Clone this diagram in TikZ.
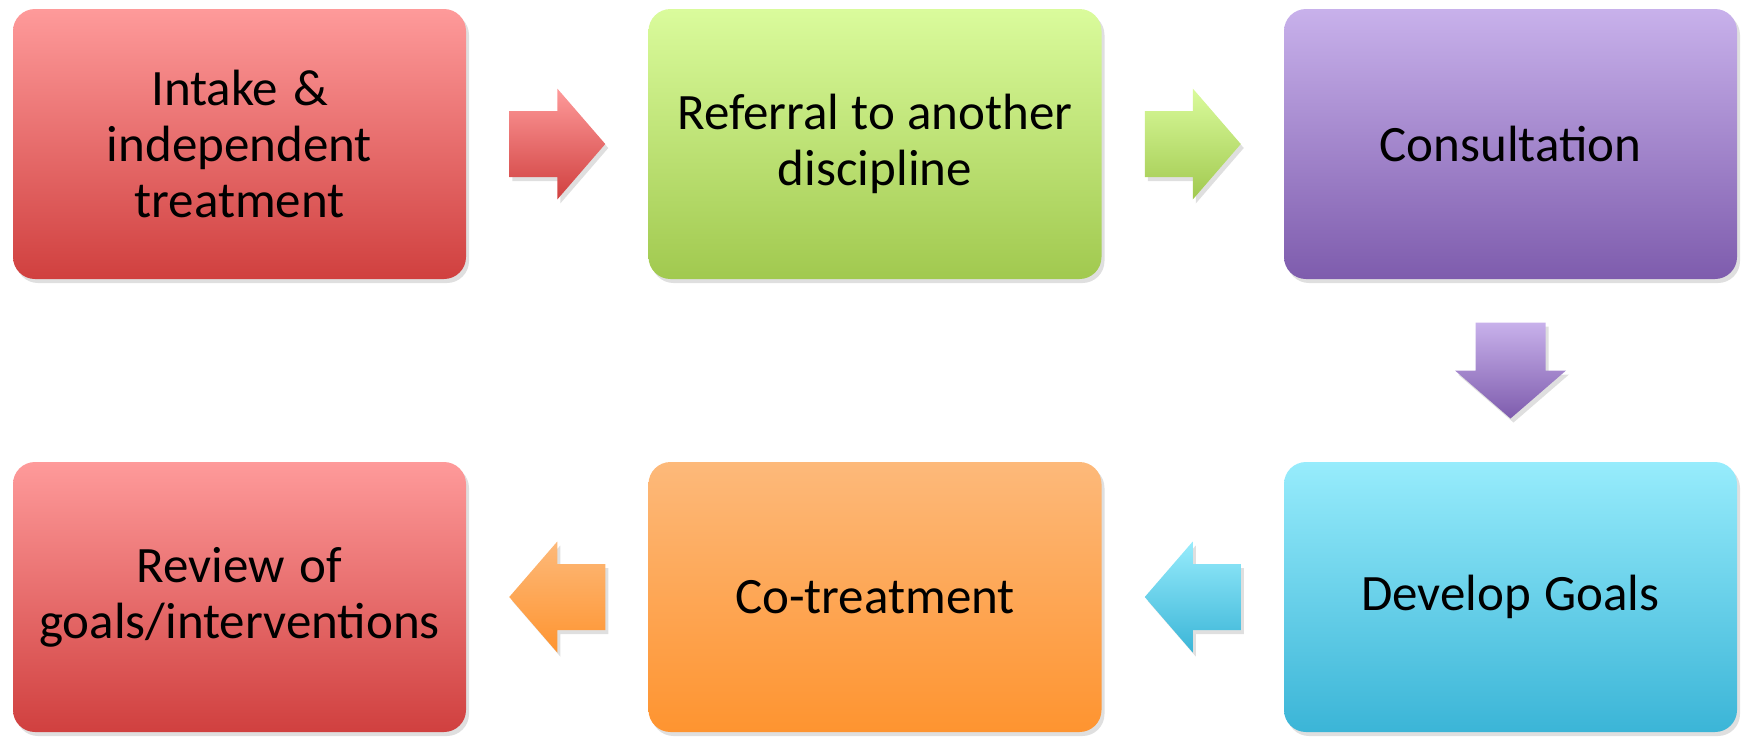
\documentclass[tikz,border=0pt]{standalone}
\usepackage{fontspec}
\setmainfont{Carlito}
\usetikzlibrary{calc,shadows}
\definecolor{redT}{HTML}{FE9A9A}\definecolor{redB}{HTML}{D0403F}
\definecolor{grnT}{HTML}{DAFB9C}\definecolor{grnB}{HTML}{A1C94F}
\definecolor{purT}{HTML}{C8B1EB}\definecolor{purB}{HTML}{7E5CAD}
\definecolor{cyaT}{HTML}{97ECFC}\definecolor{cyaB}{HTML}{3BB5D7}
\definecolor{orgT}{HTML}{FDB97A}\definecolor{orgB}{HTML}{FE9430}
\tikzset{
  softshadow/.style={drop shadow={opacity=0.18,shadow xshift=1.5pt,shadow yshift=-2pt,fill=black!70}},
  stepbox/.style={rounded corners=11pt, minimum width=226.5pt, minimum height=135pt,
    inner sep=0pt, align=center, text width=215pt,
    font=\fontsize{25.5}{28}\selectfont,
    execute at begin node={\spaceskip=0.23em plus 0.05em\relax}, softshadow},
  blockarrow/.style={softshadow},
}
\begin{document}
\begin{tikzpicture}[x=0.5pt,y=-0.5pt]
\useasboundingbox (0,0) rectangle (1749,736);
\node[stepbox, top color=redT, bottom color=redB] (a) at (239.5,144) {Intake \&\\independent\\treatment};
\node[stepbox, top color=grnT, bottom color=grnB] (b) at (875,144) {Referral to another\\discipline};
\node[stepbox, top color=purT, bottom color=purB] (c) at (1510.5,144) {Consultation};
\node[stepbox, top color=cyaT, bottom color=cyaB] (d) at (1510.5,597) {Develop Goals};
\node[stepbox, top color=orgT, bottom color=orgB] (e) at (875,597) {Co-treatment};
\node[stepbox, top color=redT, bottom color=redB] (f) at (239.5,597) {Review of\\goals/interventions};
% block arrows
\coordinate (m1) at ($(a.east)!0.5!(b.west)$);
\coordinate (m2) at ($(b.east)!0.5!(c.west)$);
\coordinate (m3) at ($(c.south)!0.5!(d.north)$);
\coordinate (m4) at ($(d.west)!0.5!(e.east)$);
\coordinate (m5) at ($(e.west)!0.5!(f.east)$);
\path[blockarrow, top color=redT, bottom color=redB, shift={(m1)}]
  (-48,-33) -- (0,-33) -- (0,-55.5) -- (48,0) -- (0,55.5) -- (0,33) -- (-48,33) -- cycle;
\path[blockarrow, top color=grnT, bottom color=grnB, shift={(m2)}]
  (-48,-33) -- (0,-33) -- (0,-55.5) -- (48,0) -- (0,55.5) -- (0,33) -- (-48,33) -- cycle;
\path[blockarrow, top color=purT, bottom color=purB, shift={(m3)}]
  (-35,-48) -- (35,-48) -- (35,0) -- (55.5,0) -- (0,48) -- (-55.5,0) -- (-35,0) -- cycle;
\path[blockarrow, top color=cyaT, bottom color=cyaB, shift={(m4)}]
  (48,-33) -- (0,-33) -- (0,-55.5) -- (-48,0) -- (0,55.5) -- (0,33) -- (48,33) -- cycle;
\path[blockarrow, top color=orgT, bottom color=orgB, shift={(m5)}]
  (48,-33) -- (0,-33) -- (0,-55.5) -- (-48,0) -- (0,55.5) -- (0,33) -- (48,33) -- cycle;
\end{tikzpicture}
\end{document}
